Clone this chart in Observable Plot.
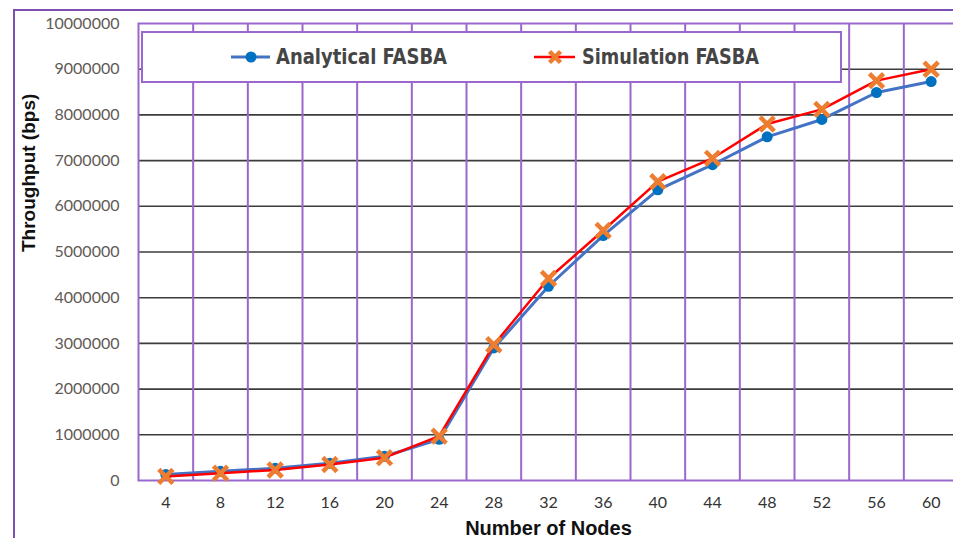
<!DOCTYPE html>
<html>
<head>
<meta charset="utf-8">
<script src="https://cdn.jsdelivr.net/npm/d3@7"></script>
<script src="https://cdn.jsdelivr.net/npm/@observablehq/plot@0.6"></script>
<style>
  html, body { margin: 0; padding: 0; background: #fff; }
  #wrap { position: relative; width: 953px; height: 538px; overflow: hidden; background: #fff; }
  #outer { position: absolute; left: 13px; top: 9px; width: 1000px; height: 1000px; border: 2px solid #7d4fb0; box-sizing: border-box; }
  #chart { position: absolute; left: 0; top: 0; }
  #legend { position: absolute; left: 0; top: 0; }
</style>
</head>
<body>
<div id="wrap">
  <div id="outer"></div>
  <div id="chart"></div>
  <svg id="legend" width="953" height="538"></svg>
</div>
<script>
// ---- data ----
const nodes = [4, 8, 12, 16, 20, 24, 28, 32, 36, 40, 44, 48, 52, 56, 60];
const analytical = [130000, 200000, 270000, 380000, 530000, 900000, 2900000, 4250000, 5360000, 6360000, 6910000, 7520000, 7900000, 8490000, 8730000];
const simulation = [90000, 160000, 230000, 350000, 500000, 970000, 2970000, 4420000, 5470000, 6540000, 7050000, 7800000, 8120000, 8750000, 9000000];
const yTicks = [0, 1000000, 2000000, 3000000, 4000000, 5000000, 6000000, 7000000, 8000000, 9000000, 10000000];
const seriesNames = ["Analytical FASBA", "Simulation FASBA"];
const xTitle = "Number of Nodes";
const yTitle = "Throughput (bps)";

const rows = nodes.map((n, i) => ({ n, a: analytical[i], s: simulation[i] }));
// category boundaries (Excel-style gridlines between categories)
const bounds = nodes.slice(0, -1).map((n, i) => (n + nodes[i + 1]) / 2);

const purple = "#9a68cc";

const chart = Plot.plot({
  width: 953,
  height: 538,
  marginLeft: 138,
  marginRight: -5,
  marginTop: 23,
  marginBottom: 58,
  style: { fontFamily: "Lato, 'Liberation Sans', sans-serif", fontSize: "16px", background: "transparent" },
  x: { domain: [2, 62] },
  y: { domain: [0, 10000000] },
  marks: [
    Plot.ruleY(yTicks.filter(d => d > 0 && d < 10000000), { stroke: "#3c3c3c", strokeWidth: 1.6 }),
    Plot.ruleX(bounds, { stroke: purple, strokeWidth: 2 }),
    Plot.frame({ stroke: purple, strokeWidth: 2 }),
    Plot.axisY({ ticks: yTicks, tickSize: 0, tickPadding: 19, tickFormat: d => String(d), fill: "#5f5a55", fontSize: 16, label: null }),
    Plot.axisX({ ticks: nodes, tickSize: 0, tickPadding: 16, tickFormat: d => String(d), fill: "#333", fontSize: 16, label: null }),
    Plot.text([yTitle], { frameAnchor: "left", dx: -110, rotate: -90, lineAnchor: "middle", fontSize: 19, fontWeight: "bold", fill: "#111", fontFamily: "'Liberation Sans', Arial, sans-serif" }),
    Plot.text([xTitle], { frameAnchor: "bottom", lineAnchor: "middle", dy: 48, fontSize: 20, fontWeight: "bold", fill: "#111", fontFamily: "'Liberation Sans', Arial, sans-serif" }),
    Plot.line(rows, { x: "n", y: "a", stroke: "#4472C4", strokeWidth: 3 }),
    Plot.dot(rows, { x: "n", y: "a", r: 5.5, fill: "#0070C0", stroke: "none" }),
    Plot.line(rows, { x: "n", y: "s", stroke: "#FF0000", strokeWidth: 2.5 }),
    Plot.dot(rows, { x: "n", y: "s", symbol: "times", r: 6.5, stroke: "#ED7D31", strokeWidth: 4.5 })
  ]
});
document.getElementById("chart").appendChild(chart);

// ---- legend ----
const lg = d3.select("#legend");
lg.append("rect").attr("x", 142).attr("y", 32).attr("width", 699).attr("height", 50)
  .attr("fill", "#fff").attr("stroke", purple).attr("stroke-width", 2);
// Analytical swatch
lg.append("line").attr("x1", 231).attr("x2", 270).attr("y1", 57).attr("y2", 57)
  .attr("stroke", "#4472C4").attr("stroke-width", 3);
lg.append("circle").attr("cx", 251).attr("cy", 57).attr("r", 5.5).attr("fill", "#0070C0");
lg.append("text").attr("x", 276).attr("y", 64).text(seriesNames[0])
  .attr("font-family", "'Liberation Sans Narrow', 'DejaVu Sans Condensed', 'Liberation Sans', sans-serif")
  .attr("font-weight", "bold").attr("font-size", 21).attr("fill", "#454545")
  .attr("textLength", 171).attr("lengthAdjust", "spacingAndGlyphs");
// Simulation swatch
lg.append("line").attr("x1", 534).attr("x2", 575).attr("y1", 57).attr("y2", 57)
  .attr("stroke", "#FF0000").attr("stroke-width", 2.5);
lg.append("path").attr("d", "M549.5,51.5L560.5,62.5M560.5,51.5L549.5,62.5")
  .attr("stroke", "#ED7D31").attr("stroke-width", 4.5).attr("fill", "none");
lg.append("text").attr("x", 582).attr("y", 64).text(seriesNames[1])
  .attr("font-family", "'Liberation Sans Narrow', 'DejaVu Sans Condensed', 'Liberation Sans', sans-serif")
  .attr("font-weight", "bold").attr("font-size", 21).attr("fill", "#454545")
  .attr("textLength", 177).attr("lengthAdjust", "spacingAndGlyphs");
</script>
</body>
</html>
